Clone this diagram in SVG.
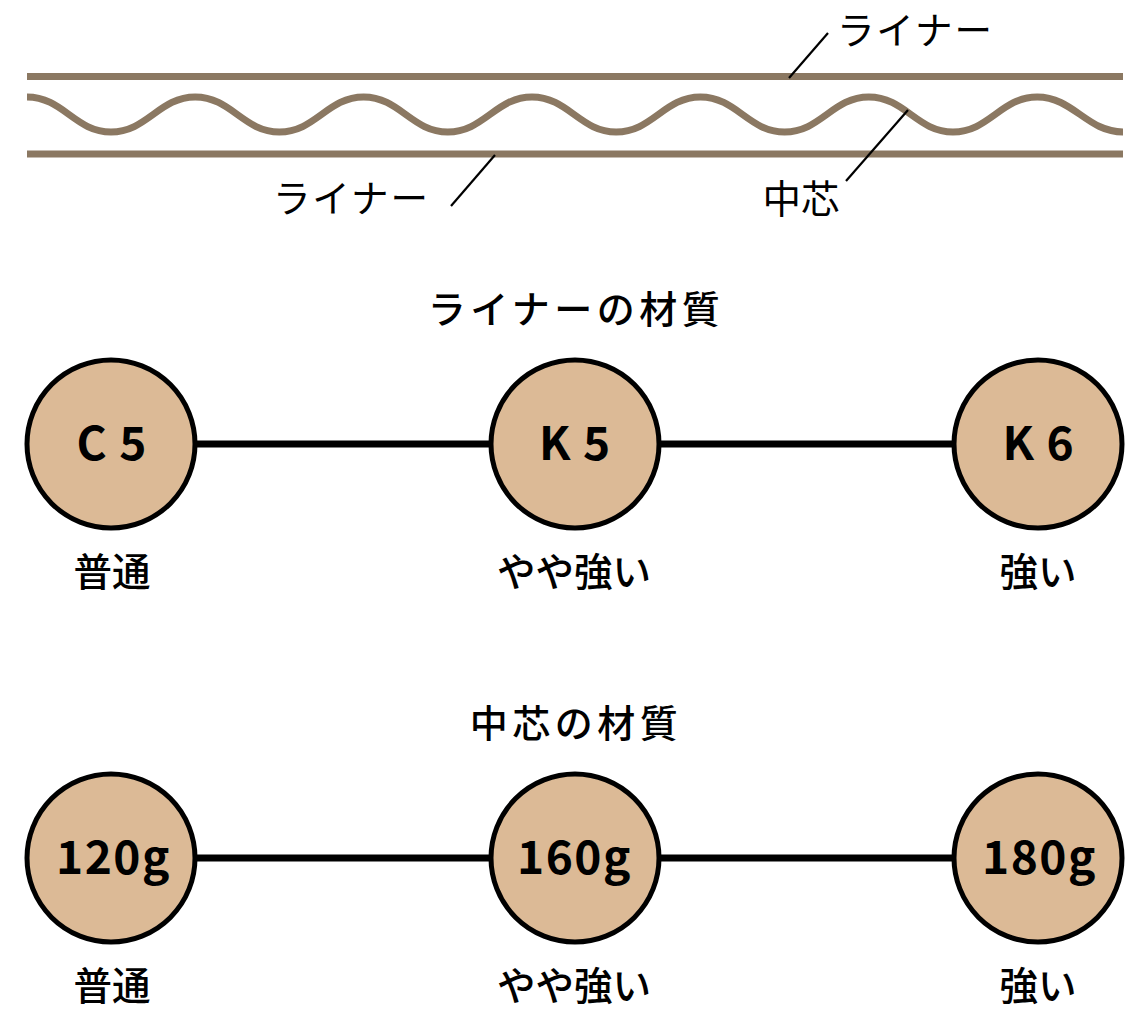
<svg xmlns="http://www.w3.org/2000/svg" width="1148" height="1017" viewBox="0 0 1148 1017">
<style>
text{font-family:"Noto Sans CJK JP","Noto Sans",sans-serif;fill:#000;text-anchor:middle}
.l{font-size:37.500px;letter-spacing:2px}
.h{font-size:38px;font-weight:500;letter-spacing:4.500px}
.s{font-size:38.500px;font-weight:500}
.c{font-size:46px;font-weight:700;letter-spacing:1px}
.g{font-size:46px;font-weight:700;letter-spacing:1.500px}
.b{stroke:#8b7862;stroke-width:7;fill:none}
.n circle{fill:#dcba96;stroke:#000;stroke-width:5}
.k{stroke:#000;stroke-width:7;fill:none}
.t{stroke:#000;stroke-width:2.2;fill:none}
</style>
<g id="board">
<line class="b" x1="27" y1="76.500" x2="1123" y2="76.500"/>
<line class="b" x1="27" y1="154" x2="1123" y2="154"/>
<path class="b" d="M27 97C63 97 75 132 111 132S159.200 97 195.200 97S243.400 132 279.400 132S327.600 97 363.600 97S411.800 132 447.800 132S496 97 532 97S580.200 132 616.200 132S664.400 97 700.400 97S748.600 132 784.600 132S832.800 97 868.800 97S917 132 953 132S1001.200 97 1037.200 97S1087 132 1123 132"/>
</g>
<g id="connectors">
<line class="t" x1="789" y1="78" x2="828" y2="33"/>
<line class="t" x1="495" y1="155" x2="451" y2="206"/>
<line class="t" x1="908" y1="110" x2="846" y2="181"/>
<line class="k" x1="195" y1="444" x2="492" y2="444"/>
<line class="k" x1="658" y1="444" x2="956" y2="444"/>
<line class="k" x1="195" y1="858" x2="492" y2="858"/>
<line class="k" x1="658" y1="858" x2="956" y2="858"/>
</g>
<g id="labels">
<text class="l" x="915.500" y="44">ライナー</text>
<text class="l" x="351.500" y="212">ライナー</text>
<text class="l" x="801" y="213" style="letter-spacing:0;font-size:38.500px">中芯</text>
<text class="h" x="576" y="323">ライナーの材質</text>
<text class="h" x="576" y="737">中芯の材質</text>
</g>
<g id="c5" class="n"><circle cx="111" cy="444" r="84"/><text class="c" x="112" y="460">C 5</text><text class="s" x="112" y="586">普通</text></g>
<g id="k5" class="n"><circle cx="575" cy="444" r="84"/><text class="c" x="575" y="460">K 5</text><text class="s" x="574" y="586">やや強い</text></g>
<g id="k6" class="n"><circle cx="1038" cy="444" r="84"/><text class="c" x="1038.500" y="460">K 6</text><text class="s" x="1038" y="586">強い</text></g>
<g id="g120" class="n"><circle cx="111" cy="858" r="84"/><text class="g" x="113.500" y="874">120g</text><text class="s" x="112" y="1000">普通</text></g>
<g id="g160" class="n"><circle cx="575" cy="858" r="84"/><text class="g" x="574.500" y="874">160g</text><text class="s" x="574" y="1000">やや強い</text></g>
<g id="g180" class="n"><circle cx="1038" cy="858" r="84"/><text class="g" x="1039.500" y="874">180g</text><text class="s" x="1038" y="1000">強い</text></g>
</svg>
